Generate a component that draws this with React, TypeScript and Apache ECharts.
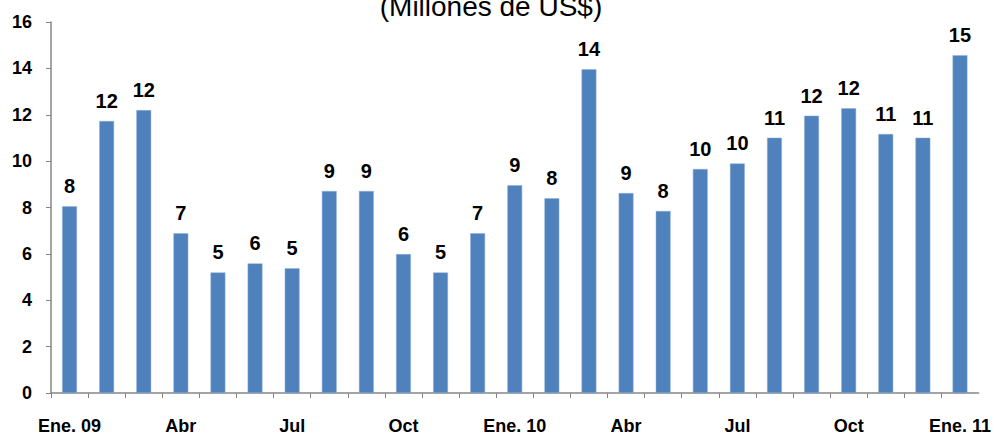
import React, { useEffect, useRef } from "react";
import * as echarts from "echarts";

const categories = [
  "Ene. 09", "Feb", "Mar", "Abr", "May", "Jun", "Jul", "Ago", "Set", "Oct", "Nov", "Dic",
  "Ene. 10", "Feb", "Mar", "Abr", "May", "Jun", "Jul", "Ago", "Set", "Oct", "Nov", "Dic",
  "Ene. 11",
];

const values = [
  8.05, 11.73, 12.2, 6.89, 5.2, 5.59, 5.38, 8.71, 8.71, 5.99, 5.2, 6.89,
  8.96, 8.4, 13.96, 8.62, 7.85, 9.66, 9.9, 11.01, 11.96, 12.28, 11.17, 11.01,
  14.57,
];

const yTicks = { min: 0, max: 16, interval: 2 };
const titleText = "(Millones de US$)";

export default function App() {
  const ref = useRef<HTMLDivElement>(null);
  useEffect(() => {
    if (!ref.current) return;
    const chart = echarts.init(ref.current, null, { renderer: "svg" });
    const font = "Liberation Sans, Arial, sans-serif";
    chart.setOption({
      animation: false,
      textStyle: { fontFamily: font },
      graphic: [
        {
          type: "text",
          x: 491,
          y: 20,
          style: {
            text: titleText,
            font: `28px ${font}`,
            fill: "#000",
            align: "center",
            verticalAlign: "bottom",
          },
        },
      ],
      grid: { left: 51, right: 15, top: 22, bottom: 43 },
      xAxis: {
        type: "category",
        data: categories,
        boundaryGap: true,
        axisLine: { lineStyle: { color: "#868686", width: 1.5 } },
        axisTick: { show: true, interval: 0, length: 5, lineStyle: { color: "#868686" } },
        axisLabel: {
          interval: 2,
          margin: 24,
          color: "#000",
          fontWeight: "bold",
          fontSize: 18,
          fontFamily: font,
        },
        splitLine: { show: false },
      },
      yAxis: {
        type: "value",
        min: yTicks.min,
        max: yTicks.max,
        interval: yTicks.interval,
        axisLine: { show: true, lineStyle: { color: "#868686", width: 1.5 } },
        axisTick: { show: true, length: 5, lineStyle: { color: "#868686" } },
        axisLabel: {
          margin: 19,
          color: "#000",
          fontWeight: "bold",
          fontSize: 18,
          fontFamily: font,
        },
        splitLine: { show: false },
      },
      series: [
        {
          type: "bar",
          data: values,
          barWidth: "40%",
          itemStyle: { color: "#4F81BD", borderColor: "#8EB1DB", borderWidth: 0.5 },
          label: {
            show: true,
            position: "top",
            distance: 10,
            color: "#000",
            fontWeight: "bold",
            fontSize: 20,
            fontFamily: font,
            formatter: (p: any) => String(Math.round(p.value)),
          },
        },
      ],
    });
    return () => chart.dispose();
  }, []);
  return <div ref={ref} style={{ width: 994, height: 436, position: "absolute", left: 0, top: 0 }} />;
}
